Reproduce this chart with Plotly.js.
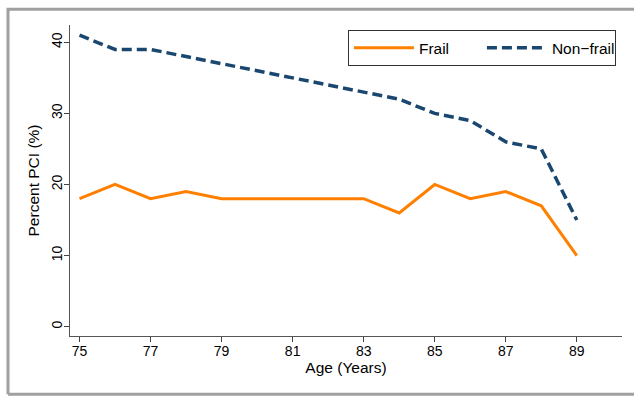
<!DOCTYPE html>
<html>
<head>
<meta charset="utf-8">
<script src="https://cdn.plot.ly/plotly-3.0.1.min.js"></script>
<style>
  html, body { margin: 0; padding: 0; background: #ffffff; }
  #chart { width: 634px; height: 397px; }
</style>
</head>
<body>
<div id="chart"></div>
<script>
const ages = [75, 76, 77, 78, 79, 80, 81, 82, 83, 84, 85, 86, 87, 88, 89];
const frail = [18, 20, 18, 19, 18, 18, 18, 18, 18, 16, 20, 18, 19, 17, 10];
const nonFrail = [41, 39, 39, 38, 37, 36, 35, 34, 33, 32, 30, 29, 26, 25, 15];
const xTicks = [75, 77, 79, 81, 83, 85, 87, 89];
const yTicks = [0, 10, 20, 30, 40];
const seriesNames = ["Frail", "Non\u2212frail"];

const FONT = "Liberation Sans, Arial, Helvetica, sans-serif";

const traces = [
  {
    x: ages, y: frail, name: seriesNames[0], type: "scatter", mode: "lines",
    line: { color: "#ff8000", width: 3 }
  },
  {
    x: ages, y: nonFrail, name: seriesNames[1], type: "scatter", mode: "lines",
    line: { color: "#1a476f", width: 3.5, dash: "10px,5px" }
  }
];

// frame (left, top, bottom) in paper coordinates
const L = 70, R = 12, T = 25, B = 61, W = 634, H = 397;
const pw = W - L - R, ph = H - T - B;
const px = v => (v - L) / pw;
const py = v => (H - B - v) / ph;
const framePath = `M ${px(8)},${py(394.3)} L ${px(8)},${py(9.3)} L ${px(640)},${py(9.3)} M ${px(8)},${py(394.3)} L ${px(640)},${py(394.3)}`;

const layout = {
  width: W, height: H,
  margin: { l: L, r: R, t: T, b: B, pad: 0 },
  paper_bgcolor: "#ffffff",
  plot_bgcolor: "#ffffff",
  font: { family: FONT, size: 14, color: "#000000" },
  showlegend: true,
  legend: {
    orientation: "h",
    x: 0.989, xanchor: "right",
    y: 0.983, yanchor: "top",
    bgcolor: "#ffffff",
    bordercolor: "#333333",
    borderwidth: 1,
    itemwidth: 60,
    entrywidth: 58,
    entrywidthmode: "pixels",
    font: { family: FONT, size: 15.5, color: "#000000" },
    traceorder: "normal"
  },
  xaxis: {
    range: [74.732, 90.273],
    tickvals: xTicks,
    ticktext: xTicks.map(String),
    ticks: "outside", ticklen: 5, tickwidth: 1, tickcolor: "#444444",
    ticklabelstandoff: -3,
    showline: true, linecolor: "#555555", linewidth: 1.2,
    showgrid: false, zeroline: false,
    tickfont: { family: FONT, size: 14, color: "#000000" },
    title: { text: "Age (Years)", font: { family: FONT, size: 15.5, color: "#000000" }, standoff: 1 }
  },
  yaxis: {
    range: [-1.32, 42.44],
    tickvals: yTicks,
    ticktext: yTicks.map(String),
    tickangle: -90,
    ticks: "outside", ticklen: 5, tickwidth: 1, tickcolor: "#444444",
    ticklabelstandoff: -4,
    showline: true, linecolor: "#555555", linewidth: 1.2,
    showgrid: false, zeroline: false,
    tickfont: { family: FONT, size: 14, color: "#000000" },
    title: { text: "Percent PCI (%)", font: { family: FONT, size: 15.5, color: "#000000" }, standoff: 5 }
  },
  shapes: [
    {
      type: "path", xref: "paper", yref: "paper", path: framePath,
      line: { color: "#a0a0a0", width: 3 }, layer: "above"
    }
  ]
};

Plotly.newPlot("chart", traces, layout, { displayModeBar: false, staticPlot: true });
</script>
</body>
</html>
